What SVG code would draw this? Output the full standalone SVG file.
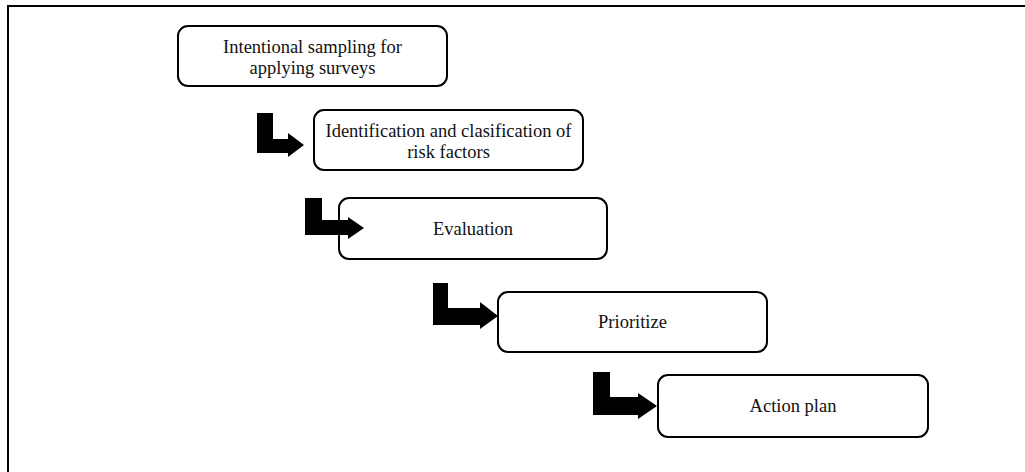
<svg xmlns="http://www.w3.org/2000/svg" width="1025" height="472" viewBox="0 0 1025 472">
<style>
.box{fill:#fff;stroke:#000;stroke-width:2}
.lbl{font-family:"Liberation Serif","Times New Roman",serif;font-size:18.5px;fill:#111;text-anchor:middle}
.arr{fill:#000;stroke:none}
.frame{fill:none;stroke:#000;stroke-width:2}
</style>
<rect width="1025" height="472" fill="#fff"/>
<path class="frame" d="M8,480 L8,6 L1040,6"/>
<g id="n1"><rect class="box" x="178" y="26" width="269" height="60" rx="10"/><text class="lbl" x="312.5" y="53">Intentional sampling for</text><text class="lbl" x="312.5" y="74">applying surveys</text></g>
<g id="n2"><rect class="box" x="314" y="110" width="269" height="60" rx="10"/><text class="lbl" x="448.5" y="137">Identification and clasification of</text><text class="lbl" x="448.5" y="158">risk factors</text></g>
<g id="n3"><rect class="box" x="339" y="198" width="268" height="61" rx="10"/><text class="lbl" x="473" y="234.5">Evaluation</text></g>
<g id="n4"><rect class="box" x="498" y="292" width="269" height="60" rx="10"/><text class="lbl" x="632.5" y="328">Prioritize</text></g>
<g id="n5"><rect class="box" x="658" y="375" width="270" height="62" rx="10"/><text class="lbl" x="793" y="412">Action plan</text></g>
<g id="connectors">
<polygon class="arr" points="257,113 273,113 273,139 288,139 288,133 304,145 288,157 288,153 257,153"/>
<polygon class="arr" points="305,198 322,198 322,220 348,220 348,217 364,228 348,239 348,235 305,235"/>
<polygon class="arr" points="433,283 448,283 448,308 480,308 480,302 498,316 480,329 480,325 433,325"/>
<polygon class="arr" points="593,372 610,372 610,397 638,397 638,393 657,406 638,419 638,415 593,415"/>
</g>
</svg>
